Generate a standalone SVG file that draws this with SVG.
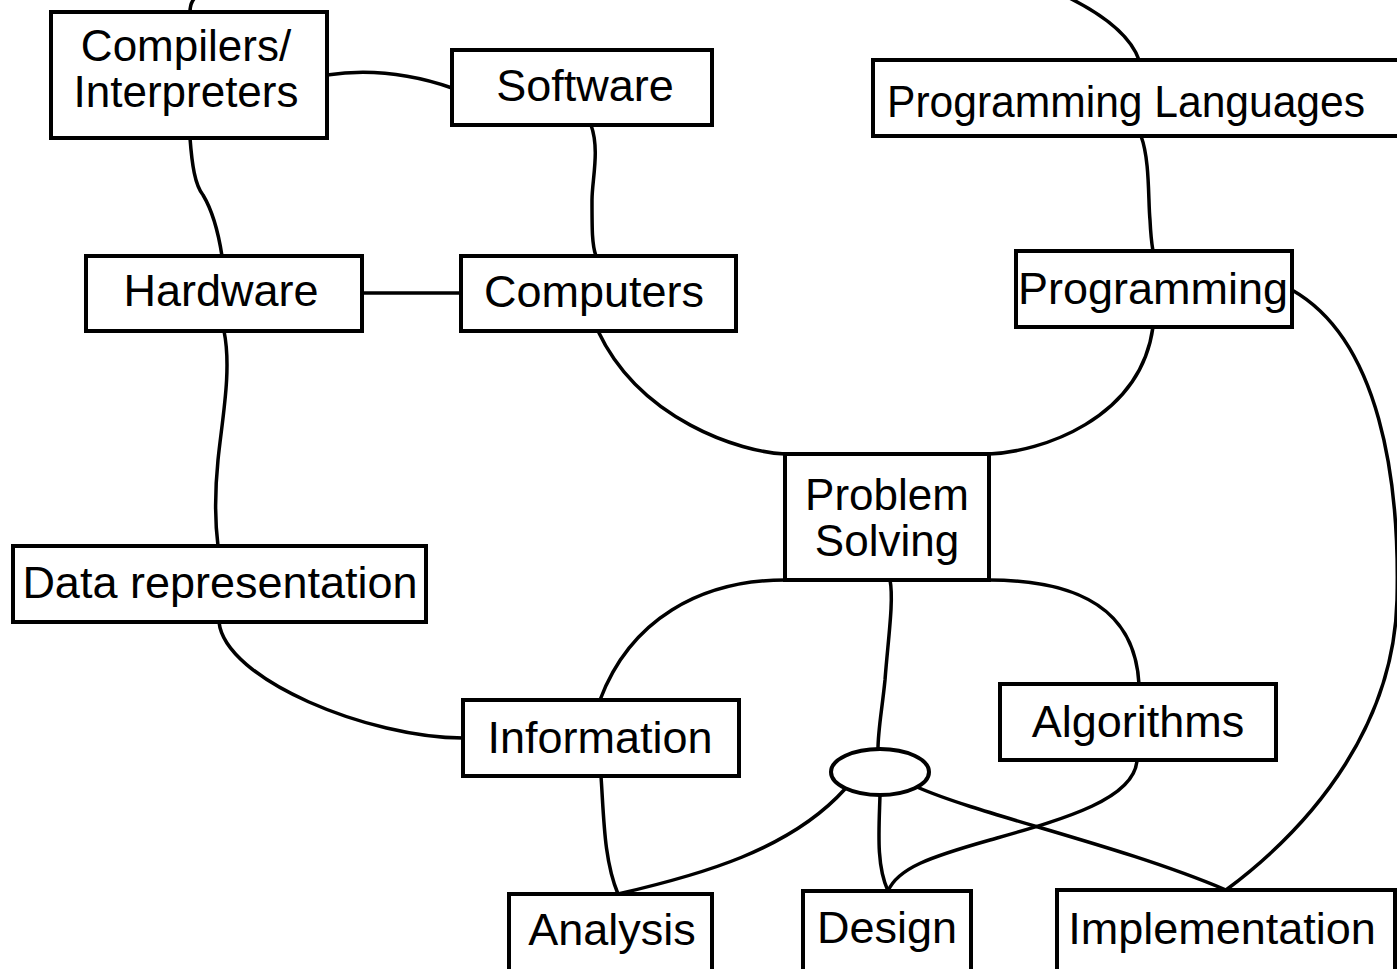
<svg xmlns="http://www.w3.org/2000/svg" width="1397" height="969" viewBox="0 0 1397 969">
<style>
.box{fill:#fff;stroke:#000;stroke-width:4}
.lbl{font-family:"Liberation Sans",Arial,sans-serif;font-size:45px;fill:#000;text-anchor:middle}
.two{font-size:44px}
.c{fill:none;stroke:#000;stroke-width:3.5}
</style>
<rect width="1397" height="969" fill="#fff"/>
<g id="connectors">
<path class="c" d="M190,12 C190,0 195,-6 215,-12 L1000,-30 C1060,-10 1125,20 1139,60"/>
<path class="c" d="M327,75 C360,70 400,70 452,88"/>
<path class="c" d="M190,138 C192,165 195,185 203,195 C212,210 218,230 222,256"/>
<path class="c" d="M591,125 C600,150 592,180 592,200 C592,230 592,245 596,256"/>
<path class="c" d="M362,293 L461,293"/>
<path class="c" d="M1141,136 C1150,160 1148,200 1150,220 C1151,240 1152,245 1153,251"/>
<path class="c" d="M598,331 C640,420 740,452 785,454"/>
<path class="c" d="M1153,327 C1140,420 1040,452 989,454"/>
<path class="c" d="M1292,290 C1380,340 1400,480 1397,600 C1394,720 1320,820 1226,890"/>
<path class="c" d="M224,331 C232,370 222,420 218,460 C214,500 216,530 218,546"/>
<path class="c" d="M219,622 C225,680 370,738 463,738"/>
<path class="c" d="M785,580 C700,580 630,620 600,700"/>
<path class="c" d="M890,580 C894,600 888,640 885,680 C882,710 878,730 878,749"/>
<path class="c" d="M989,580 C1080,580 1135,610 1139,684"/>
<path class="c" d="M601,776 C604,820 604,860 618,894"/>
<path class="c" d="M845,789 C790,850 700,875 618,894"/>
<path class="c" d="M880,795 C879,830 876,865 888,891"/>
<path class="c" d="M917,787 C980,815 1120,845 1226,890"/>
<path class="c" d="M1137,760 C1135,800 1060,820 990,840 C930,857 898,868 888,891"/>
</g>
<g id="compilers"><rect class="box" x="51" y="12" width="276" height="126"/><text class="lbl two" x="186" y="61">Compilers/</text><text class="lbl two" x="186" y="107">Interpreters</text></g>
<g id="software"><rect class="box" x="452" y="50" width="260" height="75"/><text class="lbl" x="585" y="101">Software</text></g>
<g id="programming-languages"><rect class="box" x="873" y="60" width="530" height="76"/><text class="lbl" x="887" y="117" style="text-anchor:start" textLength="478" lengthAdjust="spacingAndGlyphs">Programming Languages</text></g>
<g id="hardware"><rect class="box" x="86" y="256" width="276" height="75"/><text class="lbl" x="221" y="306">Hardware</text></g>
<g id="computers"><rect class="box" x="461" y="256" width="275" height="75"/><text class="lbl" x="594" y="307">Computers</text></g>
<g id="programming"><rect class="box" x="1016" y="251" width="276" height="76"/><text class="lbl" x="1153" y="304">Programming</text></g>
<g id="problem-solving"><rect class="box" x="785" y="454" width="204" height="126"/><text class="lbl two" x="887" y="510">Problem</text><text class="lbl two" x="887" y="556">Solving</text></g>
<g id="data-representation"><rect class="box" x="13" y="546" width="413" height="76"/><text class="lbl" x="220" y="598">Data representation</text></g>
<g id="information"><rect class="box" x="463" y="700" width="276" height="76"/><text class="lbl" x="600" y="753">Information</text></g>
<g id="algorithms"><rect class="box" x="1000" y="684" width="276" height="76"/><text class="lbl" x="1138" y="737">Algorithms</text></g>
<g id="junction"><ellipse class="box" cx="880" cy="772" rx="49" ry="23"/></g>
<g id="analysis"><rect class="box" x="509" y="894" width="203" height="100"/><text class="lbl" x="612" y="945">Analysis</text></g>
<g id="design"><rect class="box" x="803" y="891" width="168" height="100"/><text class="lbl" x="887" y="943">Design</text></g>
<g id="implementation"><rect class="box" x="1057" y="890" width="338" height="100"/><text class="lbl" x="1222" y="944">Implementation</text></g>
</svg>
